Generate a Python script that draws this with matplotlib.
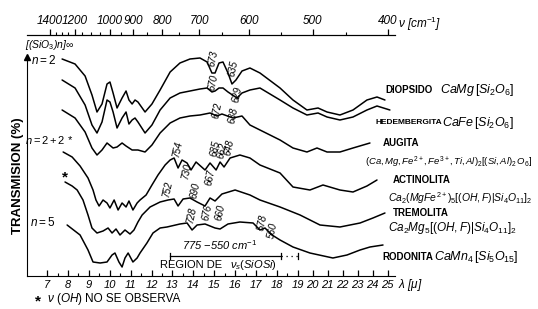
import numpy as np
import matplotlib.pyplot as plt
from matplotlib.ticker import FixedLocator, NullFormatter, FixedFormatter

plt.rcParams['font.family'] = ['Liberation Sans', 'DejaVu Sans']
plt.rcParams['mathtext.fontset'] = 'custom'
plt.rcParams['mathtext.rm'] = 'Liberation Sans'
plt.rcParams['mathtext.it'] = 'Liberation Sans:italic'
plt.rcParams['mathtext.bf'] = 'Liberation Sans:bold'

# ---- datos: lambda (micras) y transmision (unidades relativas) ----
diop_lam = [7.72, 8.34, 8.82, 9.15, 9.39, 9.63, 9.87, 10.01, 10.16, 10.35, 10.59, 10.78, 10.92, 11.07,
            11.21, 11.35, 11.69, 12.02, 12.41, 12.89, 13.36, 13.84, 14.32, 14.66, 14.89, 15.04, 15.23,
            15.42, 15.66, 15.85, 16.04, 16.33, 16.71, 17.19, 18.15, 18.77, 19.61, 20.35, 20.95, 21.81,
            22.68, 23.61, 24.28, 24.81]
diop_t = [217, 212, 200, 181, 164, 172, 192, 194, 183, 168, 178, 185, 176, 172, 176, 174, 164, 172,
          186, 204, 213, 217, 218, 214, 203, 203, 213, 214, 203, 192, 196, 205, 208, 203, 188, 176,
          166, 168, 164, 161, 166, 176, 179, 176]

hed_lam = [7.72, 8.34, 8.82, 9.15, 9.39, 9.63, 9.87, 10.01, 10.16, 10.35, 10.59, 10.78, 10.92, 11.07,
           11.21, 11.35, 11.69, 12.02, 12.41, 12.89, 13.36, 13.84, 14.32, 14.66, 14.89, 15.04, 15.23,
           15.42, 15.66, 16.09, 16.33, 16.71, 17.19, 18.15, 18.77, 19.61, 20.35, 20.95, 21.81, 22.68,
           23.61, 24.28, 25.14]
hed_t = [196, 188, 171, 151, 143, 154, 176, 174, 164, 148, 158, 164, 152, 156, 158, 154, 143, 151,
         166, 178, 183, 185, 187, 188, 184, 185, 188, 188, 184, 178, 183, 186, 188, 176, 168, 161,
         163, 159, 156, 159, 166, 170, 166]

aug_lam = [7.72, 8.34, 8.82, 9.15, 9.39, 9.63, 9.87, 10.16, 10.35, 10.59, 10.78, 11.07, 11.35, 11.69,
           12.02, 12.41, 12.89, 13.36, 13.84, 14.32, 14.80, 15.13, 15.37, 15.90, 16.33, 16.71, 17.19,
           18.15, 18.77, 19.61, 20.28, 20.95, 21.81, 22.68, 23.81]
aug_t = [166, 158, 144, 128, 121, 126, 133, 128, 129, 133, 130, 126, 126, 124, 131, 143, 153, 158,
         160, 161, 163, 160, 162, 158, 160, 151, 146, 136, 128, 124, 128, 124, 124, 128, 133]

act_lam = [7.77, 8.20, 8.58, 8.96, 9.20, 9.34, 9.49, 9.68, 9.87, 10.01, 10.21, 10.40, 10.59, 10.78,
           10.92, 11.11, 11.31, 11.45, 11.74, 12.02, 12.31, 12.65, 12.89, 13.08, 13.27, 13.46, 13.70,
           13.89, 14.13, 14.56, 14.80, 15.09, 15.28, 15.47, 15.76, 16.23, 16.71, 17.19, 18.15, 18.77,
           19.81, 20.68, 21.81, 22.68, 23.61, 24.28]
act_t = [124, 119, 110, 98, 86, 76, 70, 76, 73, 68, 76, 66, 73, 69, 75, 66, 73, 76, 81, 91, 101, 111,
         116, 118, 108, 116, 113, 106, 114, 106, 113, 106, 114, 109, 118, 121, 118, 111, 103, 89, 86,
         91, 86, 84, 90, 96]

trem_lam = [7.86, 8.20, 8.44, 8.72, 8.96, 9.15, 9.39, 9.68, 9.92, 10.11, 10.30, 10.49, 10.73, 10.97,
            11.16, 11.35, 11.55, 11.93, 12.41, 12.79, 13.08, 13.27, 13.51, 13.84, 14.18, 14.56, 14.80,
            15.04, 15.37, 16.00, 16.71, 17.19, 18.15, 19.15, 20.48, 21.81, 23.15, 24.01, 24.81]
trem_t = [94, 90, 86, 76, 61, 48, 43, 45, 48, 43, 47, 41, 46, 42, 46, 54, 61, 69, 74, 76, 77, 70, 77,
          78, 74, 70, 78, 75, 82, 86, 81, 76, 69, 61, 51, 49, 53, 58, 63]

rod_lam = [7.96, 8.58, 8.96, 9.20, 9.54, 9.87, 10.11, 10.25, 10.44, 10.59, 10.73, 10.88, 11.11, 11.31,
           11.45, 11.78, 12.07, 12.41, 12.74, 13.36, 13.70, 13.94, 14.18, 14.56, 14.80, 15.04, 15.28,
           15.66, 16.23, 16.86, 17.19, 17.43, 17.77, 18.15, 18.77, 19.81, 21.34, 22.28, 23.15, 23.81,
           24.68]
rod_t = [51, 41, 26, 14, 13, 14, 21, 23, 14, 9, 18, 23, 14, 18, 23, 33, 43, 48, 49, 52, 53, 46, 51,
         52, 50, 48, 47, 52, 54, 53, 46, 48, 41, 36, 29, 23, 18, 21, 26, 29, 31]

# bandas rotuladas: (texto, lambda, transmision)
peak_labels = [("673", 14.94, 218), ("635", 15.90, 208), ("670", 14.94, 194), ("629", 16.09, 182),
               ("672", 15.13, 166), ("638", 15.90, 161), ("754", 13.27, 128), ("685", 15.04, 128),
               ("662", 15.37, 126), ("648", 15.71, 129), ("730", 13.70, 106), ("752", 12.79, 88),
               ("690", 14.08, 86), ("667", 14.80, 99), ("728", 13.94, 62), ("676", 14.66, 64),
               ("660", 15.28, 64), ("578", 17.33, 54), ("560", 17.81, 46)]

nu_major = [1400, 1200, 1000, 900, 800, 700, 600, 500, 400]

# escala del eje: lineal hasta 19 micras, comprimida despues
BREAK, SLOPE = 19.0, 0.718


def fwd(l):
    l = np.asarray(l, dtype=float)
    return np.where(l <= BREAK, l, BREAK + SLOPE * (l - BREAK))


def inv(u):
    u = np.asarray(u, dtype=float)
    return np.where(u <= BREAK, u, BREAK + (u - BREAK) / SLOPE)


# para el eje superior se usa -nu para que la funcion sea creciente
def fwd_nu(v):
    with np.errstate(divide='ignore', invalid='ignore'):
        return fwd(-1e4 / np.asarray(v, dtype=float))


def inv_nu(u):
    with np.errstate(divide='ignore', invalid='ignore'):
        return -1e4 / inv(u)


W, H = 538, 309
fig = plt.figure(figsize=(W / 100, H / 100), dpi=100)
ax = fig.add_axes([27 / W, 33 / H, 368 / W, 241 / H])
ax.set_xscale('function', functions=(fwd, inv))
ax.set_xlim(6.04, 25.48)
ax.set_ylim(0, 241)

lw = 1.1
for lam, t in [(diop_lam, diop_t), (hed_lam, hed_t), (aug_lam, aug_t),
               (act_lam, act_t), (trem_lam, trem_t), (rod_lam, rod_t)]:
    ax.plot(lam, t, color='black', lw=lw, solid_capstyle='round', solid_joinstyle='round',
            clip_on=False)

for txt, l, t in peak_labels:
    ax.text(l, t, txt, rotation=78, style='italic', fontsize=7, ha='center', va='center')

# region nu_s(SiOSi)
ax.plot([1e4 / 775, 1e4 / 550], [20, 20], color='black', lw=0.9)
ax.plot([1e4 / 775] * 2, [17, 23], color='black', lw=0.9)
ax.plot([1e4 / 550] * 2, [17, 23], color='black', lw=0.9)
ax.plot([1e4 / 550, 19.0], [20, 20], color='black', lw=0.9, ls=(0, (1, 3)))
ax.plot([19.0, 19.0], [17, 23], color='black', lw=0.9)

# ejes
ax.spines['right'].set_visible(False)
ax.spines['left'].set_bounds(0, 219)
ax.plot([6.04], [219], marker='^', color='black', ms=4, clip_on=False)
ax.set_yticks([])
ax.xaxis.set_major_locator(FixedLocator(np.arange(7, 26)))
ax.xaxis.set_minor_locator(FixedLocator(np.arange(7.5, 19, 1.0)))
ax.xaxis.set_minor_formatter(NullFormatter())
ax.set_xticklabels([str(v) for v in range(7, 26)], style='italic', fontsize=8)
ax.tick_params(axis='x', which='major', direction='in', length=4, width=0.9, pad=3)
ax.tick_params(axis='x', which='minor', direction='in', length=2, width=0.8)

ax2 = ax.twiny()
ax2.set_xscale('function', functions=(fwd_nu, inv_nu))
ax2.set_xlim(-1e4 / 6.04, -1e4 / 25.48)
for s in ['right', 'left', 'bottom']:
    ax2.spines[s].set_visible(False)
nu_minor = [v for v in range(1350, 400, -50) if v not in nu_major]
ax2.xaxis.set_major_locator(FixedLocator([-v for v in nu_major]))
ax2.xaxis.set_minor_locator(FixedLocator([-v for v in nu_minor]))
ax2.xaxis.set_minor_formatter(NullFormatter())
ax2.xaxis.set_major_formatter(FixedFormatter([str(v) for v in nu_major]))
for lab in ax2.get_xticklabels():
    lab.set_style('italic')
    lab.set_fontsize(8.5)
ax2.tick_params(axis='x', which='major', direction='out', length=4, width=0.9, pad=2)
ax2.tick_params(axis='x', which='minor', direction='out', length=2, width=0.8)


def ftext(x, y, s, **kw):
    fig.text(x / W, 1 - y / H, s, **kw)


ftext(398, 24, r"$\nu$ [cm$^{-1}$]", fontsize=8.5, style='italic', va='center')
ftext(398, 285, r"$\lambda$ [$\mu$]", fontsize=8.5, style='italic', va='center')
ftext(18, 176, "TRANSMISION (%)", rotation=90, fontsize=9.5, weight='bold',
      ha='center', va='center')
ftext(25, 45, "[(SiO$_3$)n]$\\infty$", fontsize=7.5, style='italic', va='center')
ftext(31, 60, "$n = 2$", fontsize=8.5, va='center')
ftext(25, 140, "$n = 2 + 2$ *", fontsize=8, va='center')
ftext(62, 177, "*", fontsize=11, weight='bold', va='center')
ftext(30, 222, "$n = 5$", fontsize=8.5, va='center')
ftext(220, 245, "775 $-$550 cm$^{-1}$", fontsize=8, style='italic', ha='center', va='center')
ftext(160, 265, "REGION DE", fontsize=8, va='center')
ftext(230, 265, r"$\nu_s(SiOSi)$", fontsize=8, va='center')
ftext(35, 301, "*", fontsize=11, weight='bold', va='center')
ftext(47, 299, r"$\nu\ (OH)$", fontsize=8.5, va='center')
ftext(85, 299, "NO SE OBSERVA", fontsize=8.5, va='center')

names = [("DIOPSIDO", 385, 90, 7), ("HEDEMBERGITA", 375, 123, 6), ("AUGITA", 383, 143, 7),
         ("ACTINOLITA", 393, 180, 7), ("TREMOLITA", 393, 213, 7), ("RODONITA", 382, 257, 7)]
for name, x, y, fs in names:
    ftext(x, y, name, fontsize=fs, weight='bold', va='center')

formulas = [("$CaMg\\,[Si_2O_6]$", 440, 90, 9, 'left'),
            ("$CaFe\\,[Si_2O_6]$", 442, 123, 9, 'left'),
            ("$(Ca,Mg,Fe^{2+},Fe^{3+},Ti,Al)_2[(Si,Al)_2\\,O_6]$", 532, 162, 6.8, 'right'),
            ("$Ca_2(MgFe^{2+})_5[(OH,F)|Si_4O_{11}]_2$", 388, 198, 7.5, 'left'),
            ("$Ca_2Mg_5[(OH,F)|Si_4O_{11}]_2$", 388, 228, 8.5, 'left'),
            ("$CaMn_4\\,[Si_5O_{15}]$", 434, 257, 9, 'left')]
for form, x, y, fs, ha in formulas:
    ftext(x, y, form, fontsize=fs, va='center', ha=ha)

fig.savefig('out.png', dpi=100, facecolor='white')
